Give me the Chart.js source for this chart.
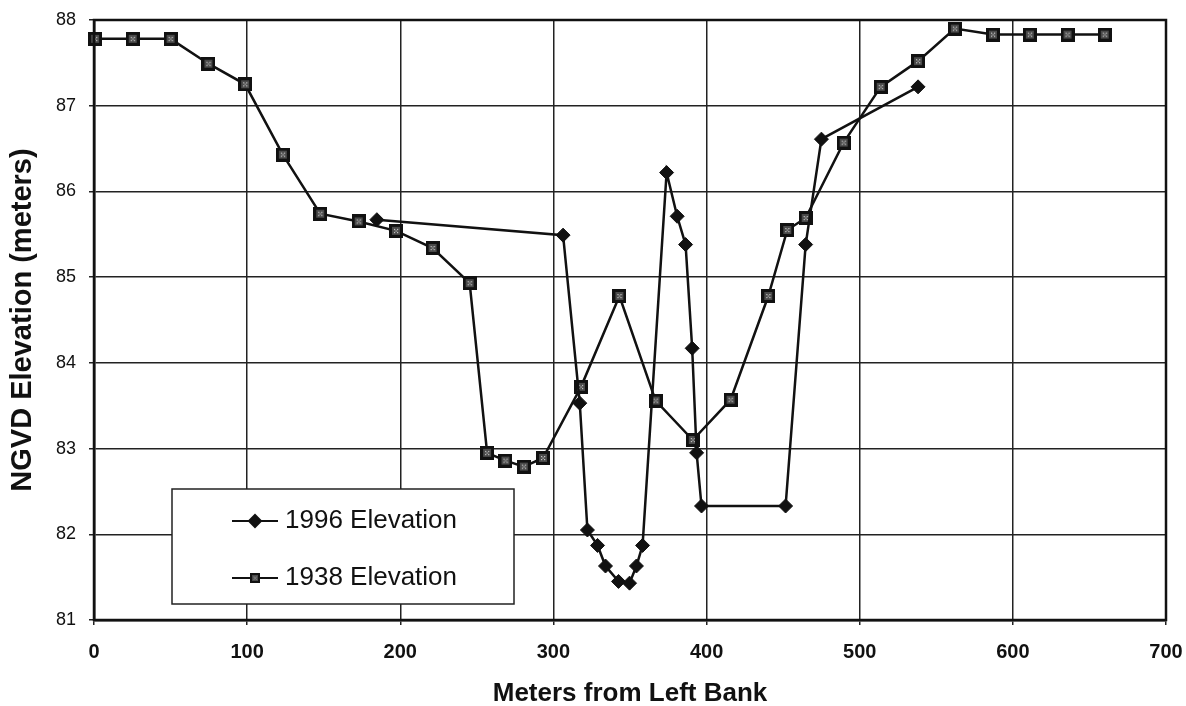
<!DOCTYPE html>
<html>
<head>
<meta charset="utf-8">
<script src="https://cdn.jsdelivr.net/npm/chart.js@4/dist/chart.umd.min.js"></script>
<style>
  html, body { margin: 0; padding: 0; background: #fff; overflow: hidden; }
  #wrap { position: relative; width: 1186px; height: 706px; }
</style>
</head>
<body>
<div id="wrap"><canvas id="xsec" width="1186" height="706"></canvas></div>
<script>
// cross-section survey, distance from left bank (m) vs NGVD elevation (m)
const dist1996 = [184.7, 306.3, 317.2, 322.2, 328.8, 334.0, 342.5, 349.7, 354.2, 358.2, 373.9, 380.8, 386.3, 390.6, 393.5, 396.7, 451.6, 464.7, 475.0, 538.1];
const elev1996 = [85.67, 85.49, 83.53, 82.05, 81.87, 81.63, 81.45, 81.43, 81.63, 81.87, 86.22, 85.71, 85.38, 84.17, 82.95, 82.33, 82.33, 85.38, 86.61, 87.22];

const dist1938 = [0.7, 25.3, 50, 74.7, 98.7, 123.3, 147.7, 172.8, 197.2, 221.1, 245.3, 256.7, 268.7, 280.7, 293.2, 318, 343.1, 366.7, 391, 415.7, 440.3, 452.7, 464.7, 489.5, 513.7, 538.1, 562.1, 587, 611.1, 635.7, 660];
const elev1938 = [87.78, 87.78, 87.78, 87.49, 87.25, 86.43, 85.74, 85.65, 85.54, 85.34, 84.93, 82.95, 82.86, 82.79, 82.89, 83.72, 84.78, 83.56, 83.10, 83.57, 84.78, 85.55, 85.69, 86.57, 87.22, 87.52, 87.90, 87.83, 87.83, 87.83, 87.83];

const seriesLabels = ['1996 Elevation', '1938 Elevation'];
const xTicks = [0, 100, 200, 300, 400, 500, 600, 700];
const yTicks = [81, 82, 83, 84, 85, 86, 87, 88];

const toPoints = (xs, ys) => xs.map((x, i) => ({ x, y: ys[i] }));

// dark square with a dotted centre, used for the older survey
function squareMarker(size) {
  const c = document.createElement('canvas');
  c.width = size; c.height = size;
  const g = c.getContext('2d');
  g.fillStyle = '#111';
  g.fillRect(0, 0, size, size);
  g.fillStyle = '#4a4a4a';
  g.fillRect(3, 3, size - 6, size - 6);
  g.fillStyle = '#ccc';
  const m = Math.floor(size / 2);
  [[m - 2, m - 2], [m + 1, m - 2], [m - 2, m + 1], [m + 1, m + 1], [m - 0.5, m - 0.5]].forEach(([px, py]) => g.fillRect(px, py, 1.2, 1.2));
  return c;
}
const sq = squareMarker(14);

// boxed legend inside the plot, lower left
const boxLegend = {
  id: 'boxLegend',
  afterDraw(chart) {
    const ctx = chart.ctx;
    const { left, bottom } = chart.chartArea;
    const x0 = left + 78, y0 = bottom - 131, w = 342, h = 115;
    ctx.save();
    ctx.fillStyle = '#fff';
    ctx.fillRect(x0, y0, w, h);
    ctx.strokeStyle = '#222';
    ctx.lineWidth = 1.5;
    ctx.strokeRect(x0, y0, w, h);
    ctx.font = '26px "Liberation Sans", Arial, sans-serif';
    ctx.textBaseline = 'middle';
    chart.data.datasets.forEach((ds, i) => {
      const cy = y0 + 32 + i * 57;
      const lx = x0 + 60;
      ctx.strokeStyle = '#111';
      ctx.lineWidth = 2;
      ctx.beginPath();
      ctx.moveTo(lx, cy);
      ctx.lineTo(lx + 46, cy);
      ctx.stroke();
      if (ds.pointStyle === 'rectRot') {
        ctx.fillStyle = '#111';
        Chart.helpers.drawPoint(ctx, { pointStyle: 'rectRot', radius: 6, borderWidth: 1 }, lx + 23, cy);
      } else {
        ctx.drawImage(sq, lx + 23 - 5, cy - 5, 10, 10);
      }
      ctx.fillStyle = '#111';
      ctx.fillText(ds.label, lx + 53, cy);
    });
    ctx.restore();
  }
};

const sans = '"Liberation Sans", Arial, sans-serif';

new Chart(document.getElementById('xsec'), {
  type: 'scatter',
  data: {
    datasets: [
      {
        label: seriesLabels[0],
        data: toPoints(dist1996, elev1996),
        showLine: true,
        clip: false,
        borderColor: '#111',
        borderWidth: 2.5,
        pointStyle: 'rectRot',
        pointRadius: 7,
        pointBackgroundColor: '#111',
        pointBorderColor: '#111',
        pointBorderWidth: 1
      },
      {
        label: seriesLabels[1],
        data: toPoints(dist1938, elev1938),
        showLine: true,
        clip: false,
        borderColor: '#111',
        borderWidth: 2.5,
        pointStyle: sq,
        pointRadius: 7
      }
    ]
  },
  options: {
    responsive: false,
    animation: false,
    devicePixelRatio: 1,
    layout: { padding: { left: 0, top: 20, right: 20, bottom: 0 } },
    plugins: { legend: { display: false }, tooltip: { enabled: false } },
    scales: {
      x: {
        type: 'linear',
        min: 0, max: 700,
        afterBuildTicks: s => { s.ticks = xTicks.map(v => ({ value: v })); },
        afterFit: s => { s.height = 86; s.paddingRight = 0; s.paddingLeft = 0; },
        grid: { color: '#222', lineWidth: 1.5, tickLength: 5 },
        border: { color: '#111', width: 2.5 },
        ticks: { color: '#111', font: { family: sans, size: 20, weight: 'bold' }, padding: 15, maxRotation: 0 },
        title: { display: true, text: 'Meters from Left Bank', color: '#111', font: { family: sans, size: 26, weight: 'bold' }, padding: { top: 0, bottom: -3 } }
      },
      y: {
        type: 'linear',
        min: 81, max: 88,
        afterBuildTicks: s => { s.ticks = yTicks.map(v => ({ value: v })); },
        afterFit: s => { s.width = 94; s.paddingTop = 0; s.paddingBottom = 0; },
        grid: { color: '#222', lineWidth: 1.5, tickLength: 5 },
        border: { color: '#111', width: 2.5 },
        ticks: { color: '#111', font: { family: sans, size: 18 }, padding: 13 },
        title: { display: true, text: 'NGVD Elevation (meters)', color: '#111', font: { family: sans, size: 29, weight: 'bold' }, padding: { top: 6, bottom: 0 } }
      }
    }
  },
  plugins: [boxLegend, {
    id: 'frame',
    afterDraw(chart) {
      const { ctx, chartArea: a } = chart;
      ctx.save();
      ctx.strokeStyle = '#111';
      ctx.lineWidth = 2.5;
      ctx.strokeRect(a.left, a.top, a.right - a.left, a.bottom - a.top);
      ctx.restore();
    }
  }]
});
</script>
</body>
</html>
